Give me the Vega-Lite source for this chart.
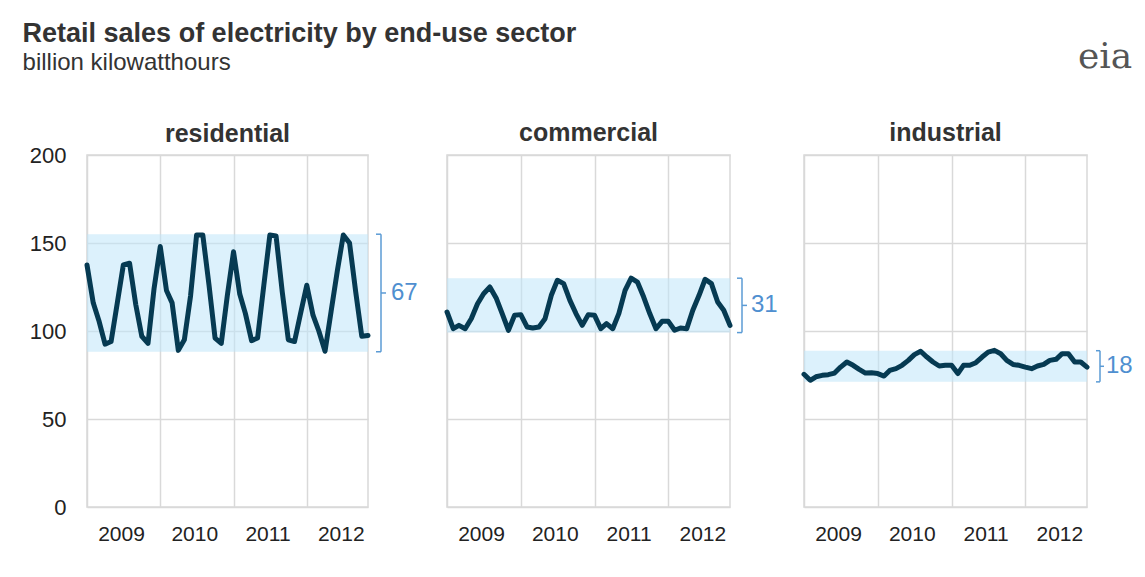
{
  "$schema": "https://vega.github.io/schema/vega-lite/v6.json",
  "padding": {"left": 22, "top": 20, "right": 5, "bottom": 5},
  "background": "white",
  "title": {
    "text": "Retail sales of electricity by end-use sector",
    "subtitle": "billion kilowatthours",
    "anchor": "start",
    "frame": "bounds",
    "font": "Liberation Sans",
    "fontSize": 27,
    "fontWeight": "bold",
    "color": "#333333",
    "subtitleFont": "Liberation Sans",
    "subtitleFontSize": 24,
    "subtitleColor": "#333333",
    "subtitlePadding": 3,
    "offset": -38,
    "dx": -6
  },
  "datasets": {
    "bands": [
      {"sector": "residential", "lo": 88.2, "hi": 155, "range": 67},
      {"sector": "commercial", "lo": 99.1, "hi": 130, "range": 31},
      {"sector": "industrial", "lo": 71.1, "hi": 88.8, "range": 18}
    ],
    "sales": [
      {"sector": "residential", "month": "2009-01-01", "value": 137.5},
      {"sector": "residential", "month": "2009-02-01", "value": 116},
      {"sector": "residential", "month": "2009-03-01", "value": 106},
      {"sector": "residential", "month": "2009-04-01", "value": 92.5},
      {"sector": "residential", "month": "2009-05-01", "value": 94},
      {"sector": "residential", "month": "2009-06-01", "value": 116},
      {"sector": "residential", "month": "2009-07-01", "value": 137.5},
      {"sector": "residential", "month": "2009-08-01", "value": 138.5},
      {"sector": "residential", "month": "2009-09-01", "value": 115},
      {"sector": "residential", "month": "2009-10-01", "value": 97},
      {"sector": "residential", "month": "2009-11-01", "value": 93},
      {"sector": "residential", "month": "2009-12-01", "value": 124},
      {"sector": "residential", "month": "2010-01-01", "value": 148},
      {"sector": "residential", "month": "2010-02-01", "value": 123},
      {"sector": "residential", "month": "2010-03-01", "value": 116},
      {"sector": "residential", "month": "2010-04-01", "value": 89},
      {"sector": "residential", "month": "2010-05-01", "value": 95},
      {"sector": "residential", "month": "2010-06-01", "value": 120},
      {"sector": "residential", "month": "2010-07-01", "value": 154.5},
      {"sector": "residential", "month": "2010-08-01", "value": 154.5},
      {"sector": "residential", "month": "2010-09-01", "value": 126},
      {"sector": "residential", "month": "2010-10-01", "value": 96},
      {"sector": "residential", "month": "2010-11-01", "value": 93},
      {"sector": "residential", "month": "2010-12-01", "value": 120},
      {"sector": "residential", "month": "2011-01-01", "value": 145},
      {"sector": "residential", "month": "2011-02-01", "value": 121},
      {"sector": "residential", "month": "2011-03-01", "value": 110},
      {"sector": "residential", "month": "2011-04-01", "value": 94.5},
      {"sector": "residential", "month": "2011-05-01", "value": 96},
      {"sector": "residential", "month": "2011-06-01", "value": 126},
      {"sector": "residential", "month": "2011-07-01", "value": 154.5},
      {"sector": "residential", "month": "2011-08-01", "value": 154},
      {"sector": "residential", "month": "2011-09-01", "value": 122},
      {"sector": "residential", "month": "2011-10-01", "value": 95},
      {"sector": "residential", "month": "2011-11-01", "value": 94},
      {"sector": "residential", "month": "2011-12-01", "value": 110},
      {"sector": "residential", "month": "2012-01-01", "value": 126},
      {"sector": "residential", "month": "2012-02-01", "value": 109},
      {"sector": "residential", "month": "2012-03-01", "value": 100},
      {"sector": "residential", "month": "2012-04-01", "value": 88.5},
      {"sector": "residential", "month": "2012-05-01", "value": 111},
      {"sector": "residential", "month": "2012-06-01", "value": 134},
      {"sector": "residential", "month": "2012-07-01", "value": 154.5},
      {"sector": "residential", "month": "2012-08-01", "value": 150},
      {"sector": "residential", "month": "2012-09-01", "value": 122},
      {"sector": "residential", "month": "2012-10-01", "value": 97},
      {"sector": "residential", "month": "2012-11-01", "value": 97.5},
      {"sector": "commercial", "month": "2009-01-01", "value": 110.8},
      {"sector": "commercial", "month": "2009-02-01", "value": 101.3},
      {"sector": "commercial", "month": "2009-03-01", "value": 103.2},
      {"sector": "commercial", "month": "2009-04-01", "value": 101.3},
      {"sector": "commercial", "month": "2009-05-01", "value": 107},
      {"sector": "commercial", "month": "2009-06-01", "value": 115.5},
      {"sector": "commercial", "month": "2009-07-01", "value": 121.2},
      {"sector": "commercial", "month": "2009-08-01", "value": 125},
      {"sector": "commercial", "month": "2009-09-01", "value": 118.8},
      {"sector": "commercial", "month": "2009-10-01", "value": 109.9},
      {"sector": "commercial", "month": "2009-11-01", "value": 100.4},
      {"sector": "commercial", "month": "2009-12-01", "value": 108.9},
      {"sector": "commercial", "month": "2010-01-01", "value": 109.3},
      {"sector": "commercial", "month": "2010-02-01", "value": 102.3},
      {"sector": "commercial", "month": "2010-03-01", "value": 101.7},
      {"sector": "commercial", "month": "2010-04-01", "value": 102.3},
      {"sector": "commercial", "month": "2010-05-01", "value": 107},
      {"sector": "commercial", "month": "2010-06-01", "value": 120.3},
      {"sector": "commercial", "month": "2010-07-01", "value": 128.8},
      {"sector": "commercial", "month": "2010-08-01", "value": 126.9},
      {"sector": "commercial", "month": "2010-09-01", "value": 117.4},
      {"sector": "commercial", "month": "2010-10-01", "value": 109.9},
      {"sector": "commercial", "month": "2010-11-01", "value": 103.2},
      {"sector": "commercial", "month": "2010-12-01", "value": 109.3},
      {"sector": "commercial", "month": "2011-01-01", "value": 108.9},
      {"sector": "commercial", "month": "2011-02-01", "value": 101.3},
      {"sector": "commercial", "month": "2011-03-01", "value": 104.2},
      {"sector": "commercial", "month": "2011-04-01", "value": 101.3},
      {"sector": "commercial", "month": "2011-05-01", "value": 109.9},
      {"sector": "commercial", "month": "2011-06-01", "value": 123.1},
      {"sector": "commercial", "month": "2011-07-01", "value": 130},
      {"sector": "commercial", "month": "2011-08-01", "value": 127.8},
      {"sector": "commercial", "month": "2011-09-01", "value": 119.3},
      {"sector": "commercial", "month": "2011-10-01", "value": 109.9},
      {"sector": "commercial", "month": "2011-11-01", "value": 101.3},
      {"sector": "commercial", "month": "2011-12-01", "value": 105.5},
      {"sector": "commercial", "month": "2012-01-01", "value": 105.5},
      {"sector": "commercial", "month": "2012-02-01", "value": 100.4},
      {"sector": "commercial", "month": "2012-03-01", "value": 101.7},
      {"sector": "commercial", "month": "2012-04-01", "value": 101.3},
      {"sector": "commercial", "month": "2012-05-01", "value": 111.8},
      {"sector": "commercial", "month": "2012-06-01", "value": 120.3},
      {"sector": "commercial", "month": "2012-07-01", "value": 129.4},
      {"sector": "commercial", "month": "2012-08-01", "value": 126.9},
      {"sector": "commercial", "month": "2012-09-01", "value": 116.5},
      {"sector": "commercial", "month": "2012-10-01", "value": 111.8},
      {"sector": "commercial", "month": "2012-11-01", "value": 103.2},
      {"sector": "industrial", "month": "2009-01-01", "value": 75.4},
      {"sector": "industrial", "month": "2009-02-01", "value": 72},
      {"sector": "industrial", "month": "2009-03-01", "value": 74},
      {"sector": "industrial", "month": "2009-04-01", "value": 74.8},
      {"sector": "industrial", "month": "2009-05-01", "value": 75.2},
      {"sector": "industrial", "month": "2009-06-01", "value": 76.1},
      {"sector": "industrial", "month": "2009-07-01", "value": 79.5},
      {"sector": "industrial", "month": "2009-08-01", "value": 82.4},
      {"sector": "industrial", "month": "2009-09-01", "value": 80.5},
      {"sector": "industrial", "month": "2009-10-01", "value": 78.2},
      {"sector": "industrial", "month": "2009-11-01", "value": 76.1},
      {"sector": "industrial", "month": "2009-12-01", "value": 76.3},
      {"sector": "industrial", "month": "2010-01-01", "value": 75.8},
      {"sector": "industrial", "month": "2010-02-01", "value": 74.4},
      {"sector": "industrial", "month": "2010-03-01", "value": 77.6},
      {"sector": "industrial", "month": "2010-04-01", "value": 78.6},
      {"sector": "industrial", "month": "2010-05-01", "value": 80.5},
      {"sector": "industrial", "month": "2010-06-01", "value": 83.3},
      {"sector": "industrial", "month": "2010-07-01", "value": 86.6},
      {"sector": "industrial", "month": "2010-08-01", "value": 88.5},
      {"sector": "industrial", "month": "2010-09-01", "value": 85.2},
      {"sector": "industrial", "month": "2010-10-01", "value": 82.4},
      {"sector": "industrial", "month": "2010-11-01", "value": 80.1},
      {"sector": "industrial", "month": "2010-12-01", "value": 80.5},
      {"sector": "industrial", "month": "2011-01-01", "value": 80.5},
      {"sector": "industrial", "month": "2011-02-01", "value": 75.8},
      {"sector": "industrial", "month": "2011-03-01", "value": 80.5},
      {"sector": "industrial", "month": "2011-04-01", "value": 80.5},
      {"sector": "industrial", "month": "2011-05-01", "value": 82},
      {"sector": "industrial", "month": "2011-06-01", "value": 85.2},
      {"sector": "industrial", "month": "2011-07-01", "value": 88},
      {"sector": "industrial", "month": "2011-08-01", "value": 89},
      {"sector": "industrial", "month": "2011-09-01", "value": 87.1},
      {"sector": "industrial", "month": "2011-10-01", "value": 83.3},
      {"sector": "industrial", "month": "2011-11-01", "value": 81},
      {"sector": "industrial", "month": "2011-12-01", "value": 80.5},
      {"sector": "industrial", "month": "2012-01-01", "value": 79.5},
      {"sector": "industrial", "month": "2012-02-01", "value": 78.6},
      {"sector": "industrial", "month": "2012-03-01", "value": 80.1},
      {"sector": "industrial", "month": "2012-04-01", "value": 81},
      {"sector": "industrial", "month": "2012-05-01", "value": 83.3},
      {"sector": "industrial", "month": "2012-06-01", "value": 83.9},
      {"sector": "industrial", "month": "2012-07-01", "value": 87.1},
      {"sector": "industrial", "month": "2012-08-01", "value": 87.1},
      {"sector": "industrial", "month": "2012-09-01", "value": 82.4},
      {"sector": "industrial", "month": "2012-10-01", "value": 82.4},
      {"sector": "industrial", "month": "2012-11-01", "value": 79.5}
    ]
  },
  "bounds": "flush",
  "spacing": 79,
  "hconcat": [
    {
      "width": 281,
      "height": 352,
      "title": {"text": "residential", "offset": -3},
      "layer": [
        {
          "data": {"name": "bands"},
          "transform": [{"filter": "datum.sector === 'residential'"}],
          "mark": {"type": "rect", "color": "#bfe6fa", "opacity": 0.55},
          "encoding": {
            "x": {"datum": {"year": 2009, "month": 1, "date": 1, "utc": true}, "type": "temporal", "title": null,
              "scale": {"type": "utc", "domain": [{"year": 2009, "month": 1, "date": 1, "utc": true}, {"year": 2012, "month": 11, "date": 1, "utc": true}]},
              "axis": {"values": [{"year": 2009, "month": 1, "date": 1, "utc": true}, {"year": 2010, "month": 1, "date": 1, "utc": true}, {"year": 2011, "month": 1, "date": 1, "utc": true}, {"year": 2012, "month": 1, "date": 1, "utc": true}], "format": "%Y", "formatType": "utc", "labelOffset": 34}},
            "x2": {"datum": {"year": 2012, "month": 11, "date": 1, "utc": true}},
            "y": {"field": "lo", "type": "quantitative", "title": null, "scale": {"domain": [0, 200]}, "axis": {"values": [0, 50, 100, 150, 200], "labelPadding": 21, "labelFontSize": 22}},
            "y2": {"field": "hi"}
          }
        },
        {
          "data": {"name": "sales"},
          "transform": [{"filter": "datum.sector === 'residential'"}],
          "mark": {"type": "line", "color": "#063a52", "strokeWidth": 5, "strokeJoin": "round", "strokeCap": "round"},
          "encoding": {
            "x": {"field": "month", "type": "temporal", "title": null},
            "y": {"field": "value", "type": "quantitative", "title": null}
          }
        },
        {
          "data": {"name": "bands"},
          "transform": [{"filter": "datum.sector === 'residential'"}],
          "mark": {"type": "rule", "color": "#5b9bd5", "strokeWidth": 1.5, "xOffset": 13},
          "encoding": {
            "x": {"datum": {"year": 2012, "month": 11, "date": 1, "utc": true}, "type": "temporal"},
            "y": {"field": "lo", "type": "quantitative", "title": null},
            "y2": {"field": "hi"}
          }
        },
        {
          "data": {"name": "bands"},
          "transform": [{"filter": "datum.sector === 'residential'"}, {"fold": ["lo", "hi"], "as": ["end", "level"]}],
          "mark": {"type": "rule", "color": "#5b9bd5", "strokeWidth": 1.5, "xOffset": 8, "x2Offset": 13},
          "encoding": {
            "x": {"datum": {"year": 2012, "month": 11, "date": 1, "utc": true}, "type": "temporal"},
            "x2": {"datum": {"year": 2012, "month": 11, "date": 1, "utc": true}},
            "y": {"field": "level", "type": "quantitative", "title": null}
          }
        },
        {
          "data": {"name": "bands"},
          "transform": [{"filter": "datum.sector === 'residential'"}, {"calculate": "(datum.lo + datum.hi) / 2", "as": "mid"}],
          "layer": [
            {
              "mark": {"type": "rule", "color": "#5b9bd5", "strokeWidth": 1.5, "xOffset": 13, "x2Offset": 18},
              "encoding": {
                "x": {"datum": {"year": 2012, "month": 11, "date": 1, "utc": true}, "type": "temporal"},
                "x2": {"datum": {"year": 2012, "month": 11, "date": 1, "utc": true}},
                "y": {"field": "mid", "type": "quantitative", "title": null}
              }
            },
            {
              "mark": {"type": "text", "align": "left", "baseline": "middle", "dx": 23, "fontSize": 24, "font": "Liberation Sans", "color": "#4f8fd0"},
              "encoding": {
                "x": {"datum": {"year": 2012, "month": 11, "date": 1, "utc": true}, "type": "temporal"},
                "y": {"field": "mid", "type": "quantitative", "title": null},
                "text": {"field": "range"}
              }
            }
          ]
        }
      ]
    },
    {
      "bounds": "flush",
      "spacing": 74,
      "hconcat": [
        {
          "width": 283,
          "height": 352,
          "title": {"text": "commercial", "offset": 9},
          "layer": [
            {
              "data": {"name": "bands"},
              "transform": [{"filter": "datum.sector === 'commercial'"}],
              "mark": {"type": "rect", "color": "#bfe6fa", "opacity": 0.55},
              "encoding": {
                "x": {"datum": {"year": 2009, "month": 1, "date": 1, "utc": true}, "type": "temporal", "title": null,
                  "scale": {"type": "utc", "domain": [{"year": 2009, "month": 1, "date": 1, "utc": true}, {"year": 2012, "month": 11, "date": 1, "utc": true}]},
                  "axis": {"values": [{"year": 2009, "month": 1, "date": 1, "utc": true}, {"year": 2010, "month": 1, "date": 1, "utc": true}, {"year": 2011, "month": 1, "date": 1, "utc": true}, {"year": 2012, "month": 1, "date": 1, "utc": true}], "format": "%Y", "formatType": "utc", "labelOffset": 34}},
                "x2": {"datum": {"year": 2012, "month": 11, "date": 1, "utc": true}},
                "y": {"field": "lo", "type": "quantitative", "title": null, "scale": {"domain": [0, 200]}, "axis": {"values": [0, 50, 100, 150, 200], "labels": false}},
                "y2": {"field": "hi"}
              }
            },
            {
              "data": {"name": "sales"},
              "transform": [{"filter": "datum.sector === 'commercial'"}],
              "mark": {"type": "line", "color": "#063a52", "strokeWidth": 5, "strokeJoin": "round", "strokeCap": "round"},
              "encoding": {
                "x": {"field": "month", "type": "temporal", "title": null},
                "y": {"field": "value", "type": "quantitative", "title": null}
              }
            },
            {
              "data": {"name": "bands"},
              "transform": [{"filter": "datum.sector === 'commercial'"}],
              "mark": {"type": "rule", "color": "#5b9bd5", "strokeWidth": 1.5, "xOffset": 12},
              "encoding": {
                "x": {"datum": {"year": 2012, "month": 11, "date": 1, "utc": true}, "type": "temporal"},
                "y": {"field": "lo", "type": "quantitative", "title": null},
                "y2": {"field": "hi"}
              }
            },
            {
              "data": {"name": "bands"},
              "transform": [{"filter": "datum.sector === 'commercial'"}, {"fold": ["lo", "hi"], "as": ["end", "level"]}],
              "mark": {"type": "rule", "color": "#5b9bd5", "strokeWidth": 1.5, "xOffset": 7, "x2Offset": 12},
              "encoding": {
                "x": {"datum": {"year": 2012, "month": 11, "date": 1, "utc": true}, "type": "temporal"},
                "x2": {"datum": {"year": 2012, "month": 11, "date": 1, "utc": true}},
                "y": {"field": "level", "type": "quantitative", "title": null}
              }
            },
            {
              "data": {"name": "bands"},
              "transform": [{"filter": "datum.sector === 'commercial'"}, {"calculate": "(datum.lo + datum.hi) / 2", "as": "mid"}],
              "layer": [
                {
                  "mark": {"type": "rule", "color": "#5b9bd5", "strokeWidth": 1.5, "xOffset": 12, "x2Offset": 17},
                  "encoding": {
                    "x": {"datum": {"year": 2012, "month": 11, "date": 1, "utc": true}, "type": "temporal"},
                    "x2": {"datum": {"year": 2012, "month": 11, "date": 1, "utc": true}},
                    "y": {"field": "mid", "type": "quantitative", "title": null}
                  }
                },
                {
                  "mark": {"type": "text", "align": "left", "baseline": "middle", "dx": 21, "fontSize": 24, "font": "Liberation Sans", "color": "#4f8fd0"},
                  "encoding": {
                    "x": {"datum": {"year": 2012, "month": 11, "date": 1, "utc": true}, "type": "temporal"},
                    "y": {"field": "mid", "type": "quantitative", "title": null},
                    "text": {"field": "range"}
                  }
                }
              ]
            }
          ]
        },
        {
          "width": 283,
          "height": 352,
          "title": {"text": "industrial", "offset": -107},
          "layer": [
            {
              "data": {"name": "bands"},
              "transform": [{"filter": "datum.sector === 'industrial'"}],
              "mark": {"type": "rect", "color": "#bfe6fa", "opacity": 0.55},
              "encoding": {
                "x": {"datum": {"year": 2009, "month": 1, "date": 1, "utc": true}, "type": "temporal", "title": null,
                  "scale": {"type": "utc", "domain": [{"year": 2009, "month": 1, "date": 1, "utc": true}, {"year": 2012, "month": 11, "date": 1, "utc": true}]},
                  "axis": {"values": [{"year": 2009, "month": 1, "date": 1, "utc": true}, {"year": 2010, "month": 1, "date": 1, "utc": true}, {"year": 2011, "month": 1, "date": 1, "utc": true}, {"year": 2012, "month": 1, "date": 1, "utc": true}], "format": "%Y", "formatType": "utc", "labelOffset": 34}},
                "x2": {"datum": {"year": 2012, "month": 11, "date": 1, "utc": true}},
                "y": {"field": "lo", "type": "quantitative", "title": null, "scale": {"domain": [0, 200]}, "axis": {"values": [0, 50, 100, 150, 200], "labels": false}},
                "y2": {"field": "hi"}
              }
            },
            {
              "data": {"name": "sales"},
              "transform": [{"filter": "datum.sector === 'industrial'"}],
              "mark": {"type": "line", "color": "#063a52", "strokeWidth": 5, "strokeJoin": "round", "strokeCap": "round"},
              "encoding": {
                "x": {"field": "month", "type": "temporal", "title": null},
                "y": {"field": "value", "type": "quantitative", "title": null}
              }
            },
            {
              "data": {"name": "bands"},
              "transform": [{"filter": "datum.sector === 'industrial'"}],
              "mark": {"type": "rule", "color": "#5b9bd5", "strokeWidth": 1.5, "xOffset": 13},
              "encoding": {
                "x": {"datum": {"year": 2012, "month": 11, "date": 1, "utc": true}, "type": "temporal"},
                "y": {"field": "lo", "type": "quantitative", "title": null},
                "y2": {"field": "hi"}
              }
            },
            {
              "data": {"name": "bands"},
              "transform": [{"filter": "datum.sector === 'industrial'"}, {"fold": ["lo", "hi"], "as": ["end", "level"]}],
              "mark": {"type": "rule", "color": "#5b9bd5", "strokeWidth": 1.5, "xOffset": 9, "x2Offset": 13},
              "encoding": {
                "x": {"datum": {"year": 2012, "month": 11, "date": 1, "utc": true}, "type": "temporal"},
                "x2": {"datum": {"year": 2012, "month": 11, "date": 1, "utc": true}},
                "y": {"field": "level", "type": "quantitative", "title": null}
              }
            },
            {
              "data": {"name": "bands"},
              "transform": [{"filter": "datum.sector === 'industrial'"}, {"calculate": "(datum.lo + datum.hi) / 2", "as": "mid"}],
              "layer": [
                {
                  "mark": {"type": "rule", "color": "#5b9bd5", "strokeWidth": 1.5, "xOffset": 13, "x2Offset": 17},
                  "encoding": {
                    "x": {"datum": {"year": 2012, "month": 11, "date": 1, "utc": true}, "type": "temporal"},
                    "x2": {"datum": {"year": 2012, "month": 11, "date": 1, "utc": true}},
                    "y": {"field": "mid", "type": "quantitative", "title": null}
                  }
                },
                {
                  "mark": {"type": "text", "align": "left", "baseline": "middle", "dx": 19, "fontSize": 24, "font": "Liberation Sans", "color": "#4f8fd0"},
                  "encoding": {
                    "x": {"datum": {"year": 2012, "month": 11, "date": 1, "utc": true}, "type": "temporal"},
                    "y": {"field": "mid", "type": "quantitative", "title": null},
                    "text": {"field": "range"}
                  }
                },
                {
                  "mark": {"type": "text", "align": "left", "baseline": "alphabetic", "dx": -9, "dy": -87, "fontSize": 36, "font": "DejaVu Serif", "color": "#555555", "text": "eia"},
                  "encoding": {
                    "x": {"datum": {"year": 2012, "month": 11, "date": 1, "utc": true}, "type": "temporal"},
                    "y": {"datum": 200, "type": "quantitative"}
                  }
                }
              ]
            }
          ]
        }
      ]
    }
  ],
  "config": {
    "view": {"stroke": "#d9d9d9", "strokeWidth": 1.5},
    "axis": {
      "grid": true,
      "gridColor": "#d9d9d9",
      "gridWidth": 1.5,
      "ticks": false,
      "domain": false,
      "labelFont": "Liberation Sans",
      "labelFontSize": 21,
      "labelColor": "#222222",
      "labelFlush": false,
      "labelOverlap": false,
      "labelBound": false
    },
    "axisX": {"labelPadding": 16},
    "title": {
      "font": "Liberation Sans",
      "fontSize": 25,
      "fontWeight": "bold",
      "color": "#333333"
    }
  }
}
